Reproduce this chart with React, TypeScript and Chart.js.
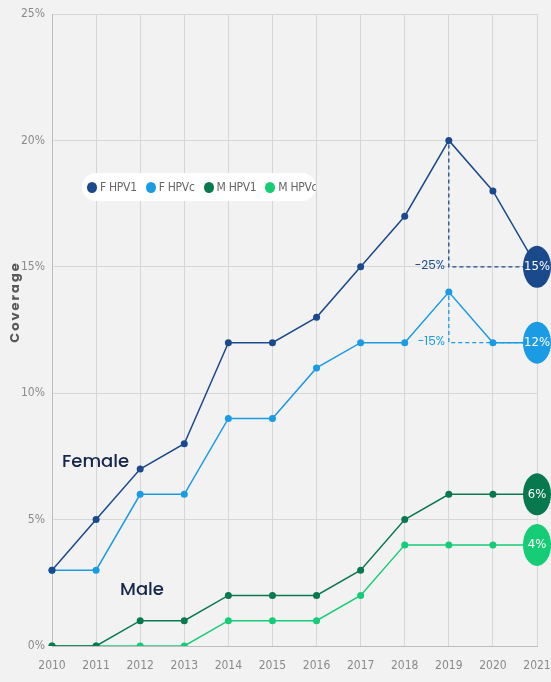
import React, { useEffect, useRef } from 'react';
import { Chart, registerables } from 'chart.js';

Chart.register(...registerables);

const years = ['2010', '2011', '2012', '2013', '2014', '2015', '2016', '2017', '2018', '2019', '2020', '2021'];
const fHpv1 = [3, 5, 7, 8, 12, 12, 13, 15, 17, 20, 18, 15];
const fHpvc = [3, 3, 6, 6, 9, 9, 11, 12, 12, 14, 12, 12];
const mHpv1 = [0, 0, 1, 1, 2, 2, 2, 3, 5, 6, 6, 6];
const mHpvc = [0, 0, 0, 0, 1, 1, 1, 2, 4, 4, 4, 4];
const seriesNames = ['F HPV1', 'F HPVc', 'M HPV1', 'M HPVc'];
const seriesColors = ['#1b4a8c', '#1b9be3', '#08784f', '#16cc76'];
const dropLabels = ['-25%', '-15%'];
const groupLabels = ['Female', 'Male'];

const TICK_FONT = "'Liberation Sans Narrow', 'DejaVu Sans Condensed', Roboto, sans-serif";
const TEXT_FONT = "Poppins, 'Open Sans', Lato, sans-serif";

export default function App() {
  const ref = useRef<HTMLCanvasElement | null>(null);

  useEffect(() => {
    document.body.style.margin = '0';
    document.body.style.background = '#f2f2f2';
    const canvas = ref.current;
    if (!canvas) return;
    const allSeries = [fHpv1, fHpvc, mHpv1, mHpvc];

    const overlay = {
      id: 'overlay',
      afterDatasetsDraw(chart: any) {
        const ctx = chart.ctx;
        const xs = chart.scales.x;
        const ys = chart.scales.y;
        const last = years.length - 1;
        [0, 1].forEach((si) => {
          const s = allSeries[si];
          let peak = 0;
          s.forEach((v, i) => { if (v > s[peak]) peak = i; });
          const px = xs.getPixelForValue(peak);
          const py = ys.getPixelForValue(s[peak]);
          const ey = ys.getPixelForValue(s[last]);
          const ex = xs.getPixelForValue(last);
          ctx.save();
          ctx.strokeStyle = seriesColors[si];
          ctx.lineWidth = 1.3;
          ctx.setLineDash([4, 3]);
          ctx.beginPath();
          ctx.moveTo(px, py + 4);
          ctx.lineTo(px, ey);
          ctx.lineTo(ex, ey);
          ctx.stroke();
          ctx.setLineDash([]);
          ctx.fillStyle = seriesColors[si];
          ctx.font = `12px ${TEXT_FONT}`;
          ctx.textAlign = 'right';
          ctx.textBaseline = 'middle';
          ctx.fillText(dropLabels[si], px - 4, ey - 1);
          ctx.restore();
        });
        allSeries.forEach((s, si) => {
          const x = xs.getPixelForValue(last);
          const y = ys.getPixelForValue(s[last]);
          ctx.save();
          ctx.fillStyle = seriesColors[si];
          ctx.beginPath();
          ctx.ellipse(x, y, 14, 21, 0, 0, Math.PI * 2);
          ctx.fill();
          ctx.fillStyle = '#ffffff';
          ctx.font = `13px ${TICK_FONT}`;
          ctx.textAlign = 'center';
          ctx.textBaseline = 'middle';
          ctx.fillText(`${s[last]}%`, x, y);
          ctx.restore();
        });
        ctx.save();
        ctx.fillStyle = '#16264a';
        ctx.font = `500 18px ${TEXT_FONT}`;
        ctx.textAlign = 'left';
        ctx.textBaseline = 'middle';
        ctx.fillText(groupLabels[0], 62, 462);
        ctx.fillText(groupLabels[1], 120, 590);
        ctx.restore();
        ctx.save();
        ctx.translate(16, 302);
        ctx.rotate(-Math.PI / 2);
        ctx.fillStyle = '#5a5a5a';
        ctx.font = `bold 13px ${TEXT_FONT}`;
        (ctx as any).letterSpacing = '2px';
        ctx.textAlign = 'center';
        ctx.textBaseline = 'middle';
        ctx.fillText('Coverage', 0, 0);
        ctx.restore();
      },
    };

    const chart = new Chart(canvas, {
      type: 'line',
      data: {
        labels: years,
        datasets: allSeries.map((s, i) => ({
          label: seriesNames[i],
          data: s,
          borderColor: seriesColors[i],
          backgroundColor: seriesColors[i],
          pointBackgroundColor: seriesColors[i],
          pointBorderWidth: 0,
          pointRadius: 3.5,
          borderWidth: 1.5,
          tension: 0,
        })),
      },
      options: {
        animation: false,
        responsive: false,
        maintainAspectRatio: false,
        layout: { padding: { top: 14, right: 14, left: 0, bottom: 0 } },
        plugins: { legend: { display: false }, tooltip: { enabled: false } },
        scales: {
          x: {
            grid: { color: '#d6d6d6', drawTicks: false },
            border: { color: '#bdbdbd' },
            ticks: { color: '#8a8a8a', font: { family: TICK_FONT, size: 12 }, padding: 13, maxRotation: 0 },
            afterFit: (scale: any) => {
              scale.height = 36;
              scale.paddingRight = 0;
              scale.paddingLeft = 0;
            },
          },
          y: {
            min: 0,
            max: 25,
            grid: { color: '#d6d6d6', drawTicks: false },
            border: { color: '#bdbdbd' },
            ticks: {
              stepSize: 5,
              color: '#8a8a8a',
              font: { family: TICK_FONT, size: 12 },
              padding: 7,
              callback: (v: any) => `${v}%`,
            },
            afterFit: (scale: any) => {
              scale.width = 52;
              scale.paddingTop = 0;
              scale.paddingBottom = 0;
            },
          },
        },
      },
      plugins: [overlay],
    });
    return () => chart.destroy();
  }, []);

  const legendItem = (i: number) => (
    <span key={i} style={{ display: 'inline-flex', alignItems: 'center', marginRight: i < 3 ? 9 : 0, whiteSpace: 'nowrap' }}>
      <span style={{ display: 'inline-block', width: 10, height: 11, borderRadius: '50%', background: seriesColors[i], marginRight: 3, flex: 'none' }} />
      <span>{seriesNames[i]}</span>
    </span>
  );

  return (
    <div style={{ position: 'fixed', left: 0, top: 0, width: 551, height: 682, background: '#f2f2f2' }}>
      <canvas ref={ref} width={551} height={682} style={{ display: 'block' }} />
      <div
        style={{
          position: 'absolute', left: 82, top: 173, height: 28, width: 234, boxSizing: 'border-box',
          background: '#ffffff', borderRadius: 14, display: 'flex', alignItems: 'center', paddingLeft: 5,
          fontFamily: TICK_FONT, fontSize: 12, letterSpacing: '-0.3px', color: '#666', whiteSpace: 'nowrap', overflow: 'hidden',
        }}
      >
        {[0, 1, 2, 3].map(legendItem)}
      </div>
    </div>
  );
}
